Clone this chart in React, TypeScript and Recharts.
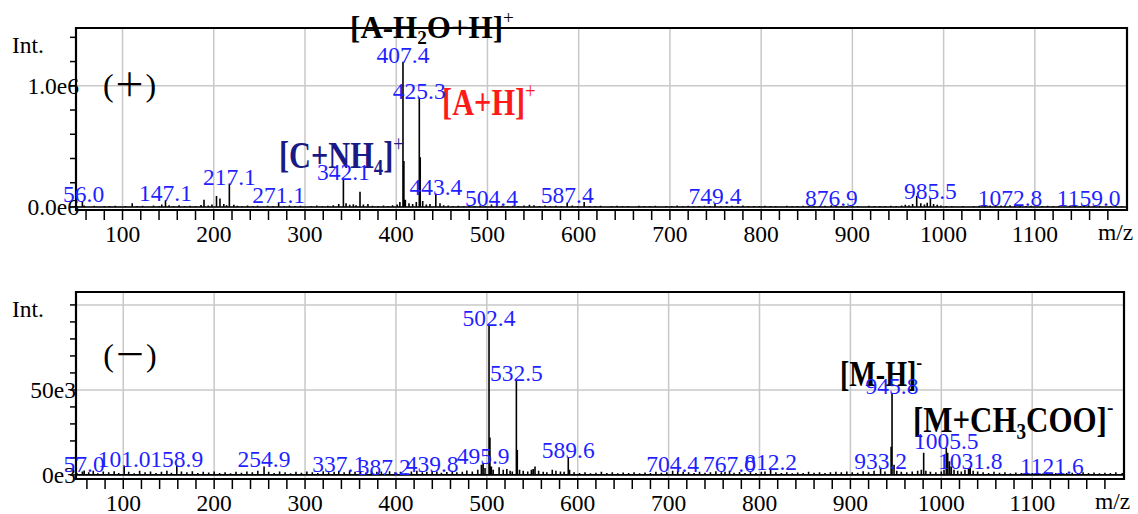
import {
  CartesianGrid,
  ComposedChart,
  LabelList,
  Line,
  ReferenceArea,
  ReferenceDot,
  XAxis,
  YAxis,
} from "recharts";

const serif = "'Liberation Serif', 'Times New Roman', serif";
const blue = "#1f1fff";
const navy = "#1a1a86";
const FS = 23.5;

// m/z axis
const mzMajor = [100, 200, 300, 400, 500, 600, 700, 800, 900, 1000, 1100];
const mzTicks = [
  60, 80, 100, 120, 140, 160, 180, 200, 220, 240, 260, 280, 300, 320, 340, 360, 380, 400,
  420, 440, 460, 480, 500, 520, 540, 560, 580, 600, 620, 640, 660, 680, 700, 720, 740, 760,
  780, 800, 820, 840, 860, 880, 900, 920, 940, 960, 980, 1000, 1020, 1040, 1060, 1080, 1100,
  1120, 1140, 1160, 1180,
];

// (+) mode: [m/z, intensity, label]
const posLabeled: [number, number, string][] = [
  [56.0, 47000, "56.0"],
  [147.1, 55000, "147.1"],
  [217.1, 193000, "217.1"],
  [271.1, 37000, "271.1"],
  [342.1, 232000, "342.1"],
  [407.4, 1198000, "407.4"],
  [425.3, 903000, "425.3"],
  [443.4, 110000, "443.4"],
  [504.4, 20000, "504.4"],
  [587.4, 37000, "587.4"],
  [749.4, 29000, "749.4"],
  [876.9, 15000, "876.9"],
  [985.5, 70000, "985.5"],
  [1072.8, 15000, "1072.8"],
  [1159.0, 15000, "1159.0"],
];
const posMinor: [number, number][] = [
  [408.4, 380000], [426.3, 410000], [360.3, 125000], [189.3, 60000], [203, 90000],
  [206.8, 70000], [110.6, 30000], [606, 40000], [970.5, 90000],
];
const posNoise: [number, number][] = [
  [50, 8000], [58, 12000], [63, 6000], [69, 10000], [74, 5000], [80, 9000], [86, 7000],
  [92, 11000], [97, 6000], [103, 9000], [116, 7000], [122, 10000], [128, 6000], [134, 12000],
  [140, 8000], [143, 20000], [151, 15000], [156, 9000], [162, 14000], [168, 8000], [174, 10000],
  [180, 7000], [186, 16000], [194, 12000], [198, 20000], [211, 25000], [214, 15000],
  [222, 18000], [226, 10000], [231, 8000], [237, 12000], [243, 7000], [248, 10000], [253, 6000],
  [259, 11000], [265, 8000], [277, 9000], [283, 13000], [289, 7000], [295, 10000], [301, 6000],
  [307, 9000], [313, 12000], [319, 8000], [325, 11000], [331, 15000], [337, 25000],
  [345, 30000], [349, 18000], [353, 22000], [356, 14000], [364, 20000], [369, 25000],
  [374, 10000], [380, 8000], [386, 12000], [391, 9000], [396, 15000], [401, 20000],
  [404, 40000], [410, 60000], [414, 30000], [418, 25000], [422, 40000], [429, 50000],
  [433, 20000], [437, 25000], [448, 30000], [452, 15000], [457, 12000], [462, 9000],
  [468, 11000], [474, 7000], [480, 10000], [486, 8000], [492, 12000], [498, 7000], [510, 9000],
  [516, 11000], [522, 7000], [528, 10000], [534, 8000], [540, 12000], [546, 18000],
  [551, 14000], [557, 9000], [563, 12000], [569, 8000], [575, 10000], [581, 7000], [593, 12000],
  [599, 8000], [612, 9000], [618, 7000], [624, 10000], [630, 6000], [636, 9000], [642, 11000],
  [648, 7000], [654, 9000], [660, 6000], [666, 10000], [672, 8000], [678, 7000], [684, 11000],
  [690, 6000], [696, 9000], [702, 8000], [708, 12000], [714, 7000], [720, 10000], [726, 8000],
  [732, 9000], [738, 11000], [744, 7000], [756, 9000], [762, 7000], [768, 10000], [774, 8000],
  [780, 12000], [786, 7000], [792, 9000], [798, 8000], [804, 11000], [810, 7000], [816, 9000],
  [822, 6000], [828, 10000], [834, 8000], [840, 7000], [846, 11000], [852, 8000], [858, 9000],
  [864, 7000], [870, 10000], [882, 8000], [888, 9000], [894, 7000], [900, 11000], [906, 8000],
  [912, 6000], [918, 10000], [924, 7000], [930, 9000], [936, 8000], [942, 11000], [948, 9000],
  [954, 13000], [958, 18000], [962, 15000], [966, 25000], [975, 30000], [979, 20000],
  [982, 35000], [989, 25000], [993, 18000], [997, 12000], [1003, 9000], [1009, 8000],
  [1015, 6000], [1021, 7000], [1027, 5000], [1033, 9000], [1039, 11000], [1045, 8000],
  [1051, 12000], [1057, 9000], [1063, 13000], [1067, 10000], [1078, 12000], [1084, 9000],
  [1090, 7000], [1096, 10000], [1102, 6000], [1108, 9000], [1114, 11000], [1120, 7000],
  [1126, 9000], [1132, 6000], [1138, 10000], [1144, 8000], [1150, 9000], [1154, 7000],
  [1165, 8000], [1171, 10000], [1177, 6000], [1183, 9000], [1189, 7000], [1195, 8000],
  [1199, 6000],
];
const posYTicks = [0, 200000, 400000, 600000, 800000, 1000000, 1200000, 1400000];
const posYLabels: Record<number, string> = { 0: "0.0e6", 1000000: "1.0e6" };
const posGridY = [0, 1000000];

// (-) mode
const negLabeled: [number, number, string][] = [
  [57.0, 2600, "57.0"],
  [101.0, 5500, "101.0"],
  [158.9, 5500, "158.9"],
  [254.9, 5000, "254.9"],
  [337.1, 2400, "337.1"],
  [387.2, 800, "387.2"],
  [439.8, 2400, "439.8"],
  [495.9, 7000, "495.9"],
  [502.4, 88400, "502.4"],
  [532.5, 56000, "532.5"],
  [589.6, 10400, "589.6"],
  [704.4, 2400, "704.4"],
  [767.0, 2400, "767.0"],
  [812.2, 3200, "812.2"],
  [933.2, 4200, "933.2"],
  [945.8, 48200, "945.8"],
  [1005.5, 15900, "1005.5"],
  [1031.8, 4200, "1031.8"],
  [1121.6, 1200, "1121.6"],
];
const negMinor: [number, number][] = [
  [503.4, 22000], [533.5, 14700], [944.8, 16600], [980.6, 13000], [1007, 13000],
  [1009, 8000], [513.5, 4500], [553, 5000], [490, 3000], [1030, 3500],
];
const negNoise: [number, number][] = [
  [49, 1200], [55, 2000], [62, 1500], [67, 2500], [72, 1000], [78, 2000], [84, 1500],
  [90, 2200], [95, 1200], [106, 1800], [112, 1000], [118, 2500], [124, 1500], [130, 2000],
  [136, 1200], [142, 1800], [148, 2500], [153, 1300], [164, 2000], [170, 1500], [176, 2200],
  [182, 1200], [188, 1800], [194, 1400], [200, 2000], [206, 1200], [212, 1600], [218, 1000],
  [224, 1800], [230, 1300], [236, 2000], [242, 1500], [248, 2500], [260, 1800], [266, 1200],
  [272, 2000], [278, 1500], [284, 1000], [290, 1800], [296, 1300], [302, 2000], [308, 1500],
  [314, 1200], [320, 2200], [326, 1600], [332, 1900], [343, 1500], [349, 2500], [355, 1800],
  [361, 2200], [367, 1400], [373, 2600], [379, 1800], [384, 2000], [393, 2200], [399, 1500],
  [405, 1800], [411, 1200], [417, 2000], [423, 2500], [429, 1500], [434, 1800], [445, 2000],
  [450, 1300], [456, 1700], [462, 2400], [467, 1500], [473, 1800], [478, 2600], [484, 2000],
  [494, 6000], [498, 4000], [505, 5000], [507, 3000], [518, 3000], [522, 3500], [525.6, 2500],
  [528, 2000], [536, 3000], [540, 2500], [545, 2000], [549, 3000], [551, 3500], [557, 2500],
  [562, 1800], [566, 1500], [572, 3000], [576, 2500], [581, 2000], [585, 1800], [591, 3000],
  [596, 1500], [602, 1200], [608, 1500], [614, 1000], [620, 1300], [626, 1800], [632, 1200],
  [638, 1500], [644, 1000], [650, 1400], [656, 1200], [662, 1600], [668, 1000], [674, 1400],
  [680, 1200], [686, 1800], [692, 1300], [698, 1500], [710, 2500], [716, 1800], [722, 1500],
  [728, 1200], [734, 1800], [740, 1300], [746, 1600], [752, 2200], [758, 1500], [762, 1800],
  [772, 1300], [778, 1700], [784, 1200], [790, 1500], [796, 1100], [802, 1800], [806, 2000],
  [818, 1500], [824, 1200], [830, 1600], [836, 1000], [842, 1400], [848, 1200], [854, 1800],
  [860, 1300], [866, 1500], [872, 1200], [878, 1600], [884, 1800], [890, 1500], [896, 2000],
  [902, 1600], [908, 1300], [914, 2200], [920, 1500], [926, 2500], [938, 2000], [948, 6000],
  [951, 2500], [956, 1800], [962, 1500], [968, 2000], [974, 2500], [978, 3000], [983, 2500],
  [988, 1800], [994, 1500], [1000, 2000], [1003, 3000], [1011, 5000], [1014, 3000],
  [1018, 2500], [1022, 2000], [1026, 3000], [1035, 2500], [1040, 2000], [1046, 1500],
  [1052, 1200], [1058, 1800], [1064, 1300], [1070, 1500], [1076, 1000], [1082, 1400],
  [1088, 1200], [1094, 1500], [1100, 1100], [1106, 1300], [1112, 1000], [1116, 1400],
  [1126, 1200], [1132, 1600], [1138, 1100], [1144, 1300], [1150, 1000], [1156, 1500],
  [1162, 1200], [1168, 1400], [1174, 1000], [1180, 1300], [1186, 1100], [1192, 1500],
  [1199, 1200],
];
const negYTicks = [0, 10000, 20000, 30000, 40000, 50000, 60000, 70000, 80000, 90000, 100000];
const negYLabels: Record<number, string> = { 0: "0e3", 50000: "50e3" };
const negGridY = [0, 50000, 100000];

type Pt = { mz: number; v: number; label?: string };

// each peak becomes a stick: baseline -> apex -> baseline
function buildSticks(
  labeled: [number, number, string][],
  minor: [number, number][],
  noise: [number, number][]
): Pt[] {
  const peaks: Pt[] = [
    ...labeled.map(([mz, v, label]) => ({ mz, v, label })),
    ...minor.map(([mz, v]) => ({ mz, v })),
    ...noise.map(([mz, v]) => ({ mz, v })),
  ].sort((a, b) => a.mz - b.mz);
  return peaks.flatMap((p) => [
    { mz: p.mz, v: 0 },
    { mz: p.mz, v: p.v, label: p.label },
    { mz: p.mz, v: 0 },
  ]);
}

const posData = buildSticks(posLabeled, posMinor, posNoise);
const negData = buildSticks(negLabeled, negMinor, negNoise);

const LABEL_MIN_X = 63;

const PeakLabel = (props: any) => {
  const { x, y, value } = props;
  if (!value) return null;
  const s = String(value);
  const w = (s.length - 0.5) * 0.5 * FS;
  let tx = x;
  let anchor: "middle" | "start" = "middle";
  if (x - w / 2 < LABEL_MIN_X) {
    tx = LABEL_MIN_X;
    anchor = "start";
  }
  return (
    <text x={tx} y={y + 1} textAnchor={anchor} fontSize={FS} fontFamily={serif} fill={blue}>
      {s}
    </text>
  );
};

const XTick = (props: any) => {
  const { x, y, payload } = props;
  if (payload.value % 100 !== 0) return null;
  return (
    <text x={x} y={y} dy="0.71em" textAnchor="middle" fontSize={FS} fontFamily={serif} fill="#000">
      {payload.value}
    </text>
  );
};

type Part = [string, "n" | "sub" | "sup"];

function Annot({
  cx,
  cy,
  parts,
  size,
  sx = 1,
  color = "#000",
}: {
  cx: number;
  cy: number;
  parts: Part[];
  size: number;
  sx?: number;
  color?: string;
}) {
  let shift = 0;
  return (
    <g transform={`translate(${cx},${cy}) scale(${sx},1)`}>
      <text x={0} y={0} fontSize={size} fontWeight="bold" fontFamily={serif} fill={color}>
        {parts.map(([t, kind], i) => {
          const target = kind === "sub" ? size * 0.2 : kind === "sup" ? -size * 0.45 : 0;
          const dy = target - shift;
          shift = target;
          return (
            <tspan
              key={i}
              dy={dy}
              fontSize={kind === "n" ? size : size * 0.62}
              fontWeight={kind === "sup" ? "normal" : "bold"}
            >
              {t}
            </tspan>
          );
        })}
      </text>
    </g>
  );
}

function ModeText({ cx, cy, text }: { cx: number; cy: number; text: string }) {
  return (
    <text
      x={cx}
      y={cy}
      dominantBaseline="central"
      fontSize={32}
      fontFamily={`${serif}, 'Noto Sans CJK JP'`}
      fill="#000"
    >
      {text}
    </text>
  );
}

interface SpectrumProps {
  data: Pt[];
  xDomain: [number, number];
  yDomain: [number, number];
  yTicks: number[];
  yLabels: Record<number, string>;
  gridY: number[];
  labelShift: number;
  margin: { top: number; right: number; bottom: number; left: number };
  children?: any;
}

function Spectrum({ data, xDomain, yDomain, yTicks, yLabels, gridY, labelShift, margin, children }: SpectrumProps) {
  const YTick = (props: any) => {
    const { x, y, payload } = props;
    const label = yLabels[payload.value];
    if (!label) return null;
    return (
      <text x={x + labelShift} y={y} dy="0.35em" textAnchor="end" fontSize={FS} fontFamily={serif} fill="#000">
        {label}
      </text>
    );
  };
  return (
    <ComposedChart width={1138} height={257} data={data} margin={margin}>
      <CartesianGrid stroke="#c8c8c8" strokeWidth={1.5} verticalValues={mzMajor} horizontalValues={gridY} />
      <XAxis
        dataKey="mz"
        type="number"
        domain={xDomain}
        allowDataOverflow
        ticks={mzTicks}
        interval={0}
        tick={<XTick />}
        tickSize={10}
        tickMargin={5}
        height={30}
        axisLine={false}
        tickLine={{ stroke: "#000", strokeWidth: 1.5 }}
        label={{
          content: (p: any) => (
            <text
              x={p.viewBox.x + p.viewBox.width - 29}
              y={p.viewBox.y + 30}
              fontSize={FS}
              fontFamily={serif}
              fill="#000"
            >
              m/z
            </text>
          ),
        }}
      />
      <YAxis
        type="number"
        domain={yDomain}
        allowDataOverflow
        ticks={yTicks}
        interval={0}
        tick={<YTick />}
        tickSize={6}
        tickMargin={0}
        width={76}
        axisLine={false}
        tickLine={{ stroke: "#000", strokeWidth: 1.5 }}
        label={{
          content: (p: any) => (
            <text x={p.viewBox.x + 12} y={p.viewBox.y + 25} fontSize={FS} fontFamily={serif} fill="#000">
              Int.
            </text>
          ),
        }}
      />
      <Line
        type="linear"
        dataKey="v"
        stroke="#000"
        strokeWidth={1.6}
        dot={false}
        activeDot={false}
        isAnimationActive={false}
      >
        <LabelList dataKey="label" content={<PeakLabel />} />
      </Line>
      <ReferenceArea
        x1={xDomain[0]}
        x2={xDomain[1]}
        y1={yDomain[0]}
        y2={yDomain[1]}
        stroke="#000"
        strokeWidth={2.2}
        fill="none"
        fillOpacity={0}
        ifOverflow="visible"
      />
      {children}
    </ComposedChart>
  );
}

export default function App() {
  return (
    <div
      style={{
        position: "absolute",
        left: 0,
        top: 0,
        width: 1138,
        height: 514,
        background: "#fff",
        fontFamily: serif,
      }}
    >
      <Spectrum
        data={posData}
        xDomain={[49, 1201]}
        yDomain={[-25000, 1477000]}
        yTicks={posYTicks}
        yLabels={posYLabels}
        gridY={posGridY}
        labelShift={9}
        margin={{ top: 28, right: 11, bottom: 17, left: 0 }}
      >
        <ReferenceDot
          x={78.5}
          y={1008000}
          r={1}
          ifOverflow="visible"
          shape={(p: any) => <ModeText cx={p.cx} cy={p.cy} text="(＋)" />}
        />
        <ReferenceDot
          x={349.4}
          y={1395000}
          r={1}
          ifOverflow="visible"
          shape={(p: any) => (
            <Annot cx={p.cx} cy={p.cy} size={31} parts={[["[A-H", "n"], ["2", "sub"], ["O+H]", "n"], ["+", "sup"]]} />
          )}
        />
        <ReferenceDot
          x={450.3}
          y={761000}
          r={1}
          ifOverflow="visible"
          shape={(p: any) => (
            <Annot cx={p.cx} cy={p.cy} size={37} sx={0.82} color="#ff1a1a" parts={[["[A+H]", "n"], ["+", "sup"]]} />
          )}
        />
        <ReferenceDot
          x={271.5}
          y={325000}
          r={1}
          ifOverflow="visible"
          shape={(p: any) => (
            <Annot
              cx={p.cx}
              cy={p.cy}
              size={37}
              sx={0.82}
              color={navy}
              parts={[["[C+NH", "n"], ["4", "sub"], ["]", "n"], ["+", "sup"]]}
            />
          )}
        />
      </Spectrum>
      <Spectrum
        data={negData}
        xDomain={[48, 1201]}
        yDomain={[-2400, 107600]}
        yTicks={negYTicks}
        yLabels={negYLabels}
        gridY={negGridY}
        labelShift={6}
        margin={{ top: 35, right: 14, bottom: 5, left: 0 }}
      >
        <ReferenceDot
          x={78}
          y={70600}
          r={1}
          ifOverflow="visible"
          shape={(p: any) => <ModeText cx={p.cx} cy={p.cy} text="(－)" />}
        />
        <ReferenceDot
          x={888.5}
          y={52400}
          r={1}
          ifOverflow="visible"
          shape={(p: any) => <Annot cx={p.cx} cy={p.cy} size={36} sx={0.78} parts={[["[M-H]", "n"], ["-", "sup"]]} />}
        />
        <ReferenceDot
          x={968.8}
          y={25500}
          r={1}
          ifOverflow="visible"
          shape={(p: any) => (
            <Annot
              cx={p.cx}
              cy={p.cy}
              size={36}
              sx={0.86}
              parts={[["[M+CH", "n"], ["3", "sub"], ["COO]", "n"], ["-", "sup"]]}
            />
          )}
        />
      </Spectrum>
    </div>
  );
}
